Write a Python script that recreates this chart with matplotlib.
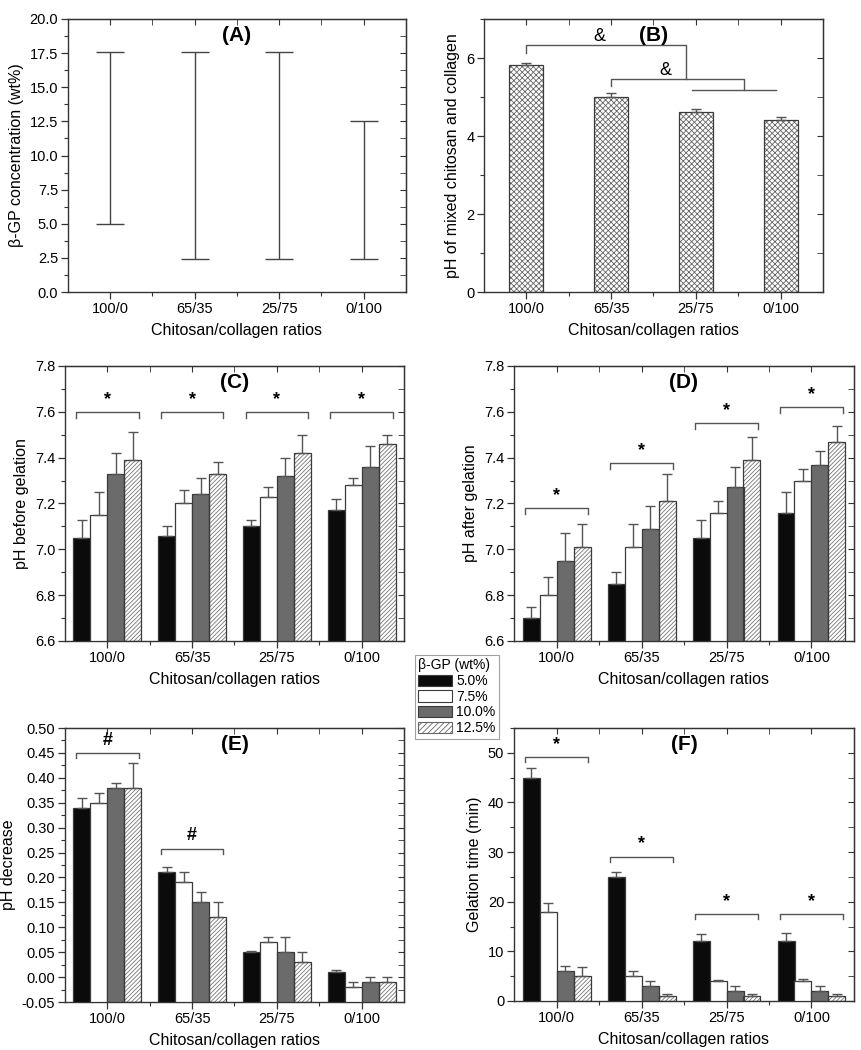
import numpy as np
import matplotlib
matplotlib.use('Agg')
import matplotlib.pyplot as plt
from matplotlib.patches import Patch
from matplotlib.ticker import MultipleLocator, FormatStrFormatter

plt.rcParams['font.family'] = ['Liberation Sans', 'DejaVu Sans']
plt.rcParams['hatch.linewidth'] = 0.6

# categories
ratios = ['100/0', '65/35', '25/75', '0/100']
gp_levels = ['5.0%', '7.5%', '10.0%', '12.5%']

# (A) beta-GP concentration range (wt%)
gp_low = [5.0, 2.4, 2.4, 2.4]
gp_high = [17.6, 17.6, 17.6, 12.5]

# (B) pH of mixed chitosan and collagen
ph_mixed = [5.83, 5.00, 4.62, 4.42]
ph_mixed_err = [0.05, 0.11, 0.08, 0.07]

# (C) pH before gelation, rows = ratio, cols = beta-GP level
ph_before = [[7.05, 7.15, 7.33, 7.39],
             [7.06, 7.20, 7.24, 7.33],
             [7.10, 7.23, 7.32, 7.42],
             [7.17, 7.28, 7.36, 7.46]]
ph_before_err = [[0.08, 0.10, 0.09, 0.12],
                 [0.04, 0.06, 0.07, 0.05],
                 [0.03, 0.04, 0.08, 0.08],
                 [0.05, 0.03, 0.09, 0.04]]

# (D) pH after gelation
ph_after = [[6.70, 6.80, 6.95, 7.01],
            [6.85, 7.01, 7.09, 7.21],
            [7.05, 7.16, 7.27, 7.39],
            [7.16, 7.30, 7.37, 7.47]]
ph_after_err = [[0.05, 0.08, 0.12, 0.10],
                [0.05, 0.10, 0.10, 0.12],
                [0.08, 0.05, 0.09, 0.10],
                [0.09, 0.05, 0.06, 0.07]]

# (E) pH decrease
ph_drop = [[0.34, 0.35, 0.38, 0.38],
           [0.21, 0.19, 0.15, 0.12],
           [0.05, 0.07, 0.05, 0.03],
           [0.01, -0.02, -0.01, -0.01]]
ph_drop_err = [[0.02, 0.02, 0.01, 0.05],
               [0.01, 0.02, 0.02, 0.03],
               [0.003, 0.01, 0.03, 0.02],
               [0.005, 0.01, 0.01, 0.01]]

# (F) gelation time (min)
gel_time = [[45, 18, 6, 5],
            [25, 5, 3, 1],
            [12, 4, 2, 1],
            [12, 4, 2, 1]]
gel_time_err = [[2.0, 1.8, 1.0, 1.8],
                [1.0, 1.0, 1.0, 0.5],
                [1.5, 0.3, 1.0, 0.5],
                [1.8, 0.5, 1.0, 0.5]]

# significance brackets: (ratio index, bracket height, mark)
sig_c = [(0, 7.60, '*'), (1, 7.60, '*'), (2, 7.60, '*'), (3, 7.60, '*')]
sig_d = [(0, 7.18, '*'), (1, 7.375, '*'), (2, 7.55, '*'), (3, 7.62, '*')]
sig_e = [(0, 0.45, '#'), (1, 0.258, '#')]
sig_f = [(0, 49.1, '*'), (1, 29.1, '*'), (2, 17.5, '*'), (3, 17.5, '*')]

bar_faces = ['#0b0b0b', 'white', '#6b6b6b', 'white']
bar_hatch = [None, None, None, '////////']
edge = '#3a3a3a'
err_col = '#555555'

TICK_FS = 10.5
LABEL_FS = 11.5

W, H = 862, 1050
fig = plt.figure(figsize=(W / 100, H / 100), dpi=100)


def make_ax(l, r, t, b):
    return fig.add_axes([l / W, 1 - b / H, (r - l) / W, (b - t) / H])


def style(ax, ymaj, ymin, fmt, ylabel, tag):
    ax.set_xlim(-0.5, 3.5)
    ax.set_xticks(range(4))
    ax.set_xticklabels(ratios)
    ax.set_xticks([0.5, 1.5, 2.5], minor=True)
    ax.yaxis.set_major_locator(MultipleLocator(ymaj))
    ax.yaxis.set_minor_locator(MultipleLocator(ymin))
    ax.yaxis.set_major_formatter(FormatStrFormatter(fmt))
    ax.tick_params(which='major', direction='out', length=5, width=0.9,
                   color='#333333', labelsize=TICK_FS, pad=2)
    ax.tick_params(which='minor', direction='out', length=3, width=0.8,
                   color='#333333')
    for s in ax.spines.values():
        s.set_color('#333333')
        s.set_linewidth(1.0)
    top = ax.secondary_xaxis('top')
    top.set_xticks(range(4))
    top.set_xticks([0.5, 1.5, 2.5], minor=True)
    top.tick_params(which='both', direction='in', labeltop=False,
                    length=4, color='#333333')
    right = ax.secondary_yaxis('right')
    right.yaxis.set_major_locator(MultipleLocator(ymaj))
    right.yaxis.set_minor_locator(MultipleLocator(ymin))
    right.tick_params(which='both', direction='in', labelright=False,
                      length=4, color='#333333')
    ax.set_xlabel('Chitosan/collagen ratios', fontsize=LABEL_FS, labelpad=5)
    ax.set_ylabel(ylabel, fontsize=LABEL_FS, labelpad=4)
    ax.text(0.5, 0.94, tag, transform=ax.transAxes, ha='center', va='center',
            fontsize=15, fontweight='bold')


def grouped(ax, vals, errs, base):
    vals = np.array(vals, dtype=float)
    errs = np.array(errs, dtype=float)
    x = np.arange(len(ratios))
    w = 0.2
    for j in range(len(gp_levels)):
        xs = x + (j - 1.5) * w
        hv = vals[:, j] - base
        if bar_hatch[j]:
            ax.bar(xs, hv, w, bottom=base, color='white', edgecolor='#777777',
                   hatch=bar_hatch[j], linewidth=0, zorder=2)
            ax.bar(xs, hv, w, bottom=base, color='none', edgecolor=edge,
                   linewidth=0.9, zorder=3)
        else:
            ax.bar(xs, hv, w, bottom=base, color=bar_faces[j], edgecolor=edge,
                   linewidth=0.9, zorder=3)
        ax.errorbar(xs, vals[:, j], yerr=[np.zeros(len(xs)), errs[:, j]],
                    fmt='none', ecolor=err_col, elinewidth=1.0, capsize=3.5,
                    capthick=1.0, zorder=4)


def brackets(ax, sigs, drop):
    for i, y, mark in sigs:
        x0, x1 = i - 0.37, i + 0.37
        ax.plot([x0, x0, x1, x1], [y - drop, y, y, y - drop], color='#555555',
                lw=1.0, zorder=5)
        ax.annotate(mark, ((x0 + x1) / 2, y), xytext=(0, 3),
                    textcoords='offset points', ha='center', va='bottom',
                    fontsize=13, fontweight='bold')


# (A)
axA = make_ax(68, 406, 19, 292)
mid = (np.array(gp_low) + np.array(gp_high)) / 2
half = (np.array(gp_high) - np.array(gp_low)) / 2
axA.errorbar(range(4), mid, yerr=half, fmt='none', ecolor='#444444',
             elinewidth=1.0, capsize=10, capthick=1.0)
axA.set_ylim(0, 20)
style(axA, 2.5, 1.25, '%.1f', 'β-GP concentration (wt%)', '(A)')

# (B)
axB = make_ax(484, 823, 19, 292)
axB.bar(range(4), ph_mixed, 0.4, color='white', edgecolor='#666666',
        hatch='xxxxxx', linewidth=0, zorder=2)
axB.bar(range(4), ph_mixed, 0.4, color='none', edgecolor=edge, linewidth=0.9,
        zorder=3)
axB.errorbar(range(4), ph_mixed, yerr=[np.zeros(4), ph_mixed_err], fmt='none',
             ecolor=err_col, elinewidth=1.0, capsize=3.5, capthick=1.0, zorder=4)
axB.set_ylim(0, 7)
style(axB, 2, 1, '%d', 'pH of mixed chitosan and collagen', '(B)')
bk = '#555555'
axB.plot([0, 0, 1.88, 1.88], [6.13, 6.34, 6.34, 5.45], color=bk, lw=1.0)
axB.plot([1.0, 1.0, 2.57, 2.57], [5.28, 5.45, 5.45, 5.19], color=bk, lw=1.0)
axB.plot([1.96, 2.95], [5.19, 5.19], color=bk, lw=1.0)
axB.text(0.86, 6.55, '&', ha='center', va='center', fontsize=13)
axB.text(1.64, 5.69, '&', ha='center', va='center', fontsize=13)

# (C)
axC = make_ax(65, 404, 366, 641)
grouped(axC, ph_before, ph_before_err, 6.6)
axC.set_ylim(6.6, 7.8)
brackets(axC, sig_c, 0.025)
style(axC, 0.2, 0.1, '%.1f', 'pH before gelation', '(C)')

# (D)
axD = make_ax(514, 854, 366, 641)
grouped(axD, ph_after, ph_after_err, 6.6)
axD.set_ylim(6.6, 7.8)
brackets(axD, sig_d, 0.025)
style(axD, 0.2, 0.1, '%.1f', 'pH after gelation', '(D)')

# (E)
axE = make_ax(65, 404, 728, 1002)
grouped(axE, ph_drop, ph_drop_err, -0.05)
axE.set_ylim(-0.05, 0.5)
brackets(axE, sig_e, 0.01)
style(axE, 0.05, 0.025, '%.2f', 'pH decrease', '(E)')

# (F)
axF = make_ax(514, 854, 728, 1001)
grouped(axF, gel_time, gel_time_err, 0)
axF.set_ylim(0, 55)
brackets(axF, sig_f, 1.0)
style(axF, 10, 5, '%d', 'Gelation time (min)', '(F)')

# legend between the panels
handles = []
for j in range(len(gp_levels)):
    if bar_hatch[j]:
        handles.append(Patch(facecolor='white', edgecolor='#666666',
                             hatch='//////', linewidth=0.8))
    else:
        handles.append(Patch(facecolor=bar_faces[j], edgecolor=edge,
                             linewidth=0.8))
leg = fig.legend(handles, gp_levels, title='β-GP (wt%)', loc='upper left',
                 bbox_to_anchor=(415 / W, 1 - 655 / H), fontsize=10,
                 title_fontsize=10, frameon=True, fancybox=False,
                 edgecolor='#888888', handlelength=2.4, handleheight=0.9,
                 labelspacing=0.12, borderpad=0.25, handletextpad=0.3,
                 borderaxespad=0, alignment='left')
leg.get_frame().set_linewidth(0.8)

fig.savefig('out.png', dpi=100)
